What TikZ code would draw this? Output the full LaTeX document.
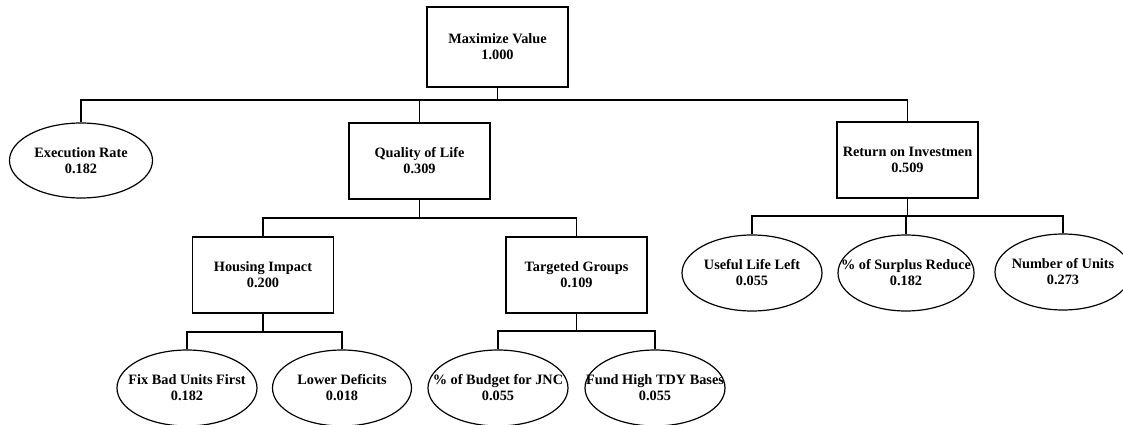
\documentclass[tikz,border=0pt]{standalone}
\usepackage{fontspec}
\setmainfont{Liberation Serif}
\usetikzlibrary{shapes.geometric}
\begin{document}
\begin{tikzpicture}[x=1pt,y=-1pt,
  every node/.style={font=\bfseries\fontsize{14.3}{16}\selectfont, align=center, inner sep=0pt},
  boxnode/.style={draw, line width=1.2pt, rectangle, minimum width=141pt, minimum height=76pt},
  ellnode/.style={draw, line width=1.2pt, ellipse, minimum width=140pt, minimum height=76pt},
  link/.style={line width=1.2pt}]
\useasboundingbox (0,0) rectangle (1123,425);
% boxes
\node[boxnode, minimum height=80pt] (top) at (497.5,47) {Maximize Value\\1.000};
\node[boxnode] (qol) at (419.5,161) {Quality of Life\\0.309};
\node[boxnode] (roi) at (907.5,160) {Return on Investmen\\0.509};
\node[boxnode] (hous) at (263,275) {Housing Impact\\0.200};
\node[boxnode] (targ) at (576.5,275) {Targeted Groups\\0.109};
% ellipses (outline) and their texts
\node[ellnode, minimum width=143pt, minimum height=75pt] (exec) at (81,160.5) {};
\node (exec-t) at (exec.center) {Execution Rate\\0.182};
\node[ellnode] (useful) at (752,273) {};
\node (useful-t) at (useful.center) {Useful Life Left\\0.055};
\node[ellnode, minimum width=136pt] (surplus) at (906,273) {};
\node (surplus-t) at (surplus.center) {\% of Surplus Reduce\\0.182};
\node[ellnode, minimum width=136pt] (units) at (1063,272) {};
\node (units-t) at (units.center) {Number of Units\\0.273};
\node[ellnode] (fix) at (187,388) {};
\node (fix-t) at (fix.center) {Fix Bad Units First\\0.182};
\node[ellnode, minimum width=139pt] (lower) at (342,388) {};
\node (lower-t) at (lower.center) {Lower Deficits\\0.018};
\node[ellnode] (budget) at (498,388) {};
\node (budget-t) at (budget.center) {\% of Budget for JNC\\0.055};
\node[ellnode] (fund) at (655,388) {};
\node (fund-t) at (fund.center) {Fund High TDY Bases\\0.055};
% bus coordinates
\coordinate (b0) at (497.5,100);
\coordinate (b1) at (419.5,218);
\coordinate (b2) at (907.5,216);
\coordinate (b3) at (263,332);
\coordinate (b4) at (576.5,331);
% connectors
\draw[link] (top.south) -- (b0);
\draw[link] (exec.north) |- (b0);
\draw[link] (qol.north) |- (b0);
\draw[link] (roi.north) |- (b0);
\draw[link] (qol.south) -- (b1);
\draw[link] (hous.north) |- (b1);
\draw[link] (targ.north) |- (b1);
\draw[link] (roi.south) -- (b2);
\draw[link] (useful.north) |- (b2);
\draw[link] (surplus.north) |- (b2);
\draw[link] (units.north) |- (b2);
\draw[link] (hous.south) -- (b3);
\draw[link] (fix.north) |- (b3);
\draw[link] (lower.north) |- (b3);
\draw[link] (targ.south) -- (b4);
\draw[link] (budget.north) |- (b4);
\draw[link] (fund.north) |- (b4);
\end{tikzpicture}
\end{document}
